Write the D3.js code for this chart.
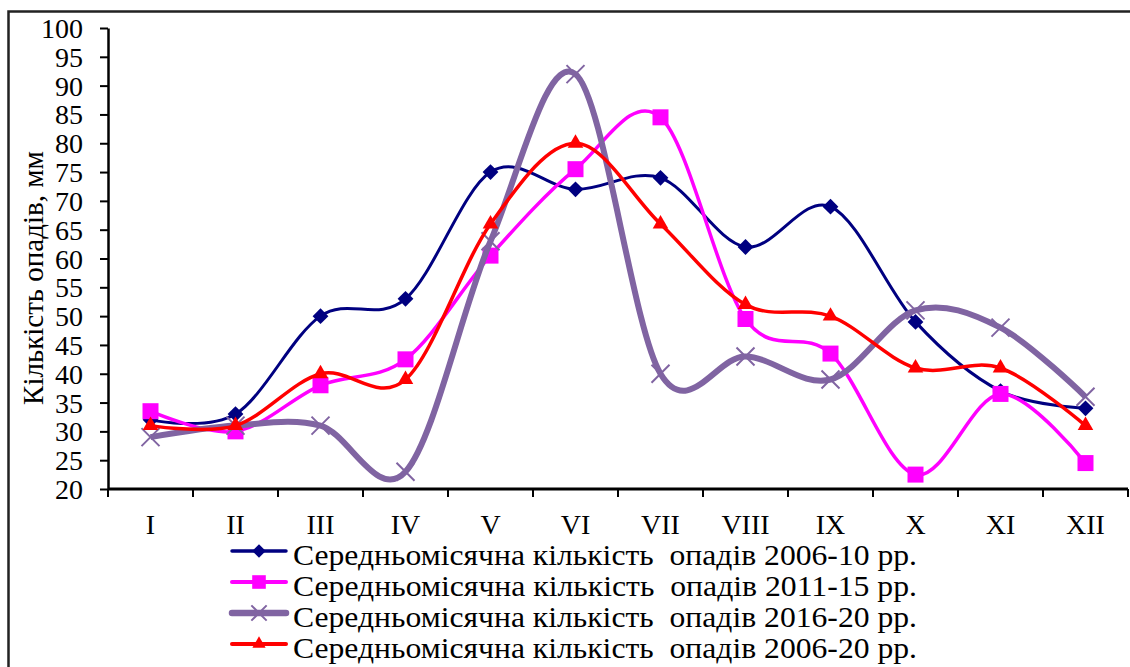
<!DOCTYPE html>
<html>
<head>
<meta charset="utf-8">
<script src="https://cdn.jsdelivr.net/npm/d3@7"></script>
<style>
  html, body { margin: 0; padding: 0; background: #fff; }
  svg { display: block; font-family: "Liberation Serif", "Times New Roman", serif; }
  text { white-space: pre; }
</style>
</head>
<body>
<div id="chart"></div>
<script>
(function () {
// Months (roman numerals, as on the x axis)
const months = ["I", "II", "III", "IV", "V", "VI", "VII", "VIII", "IX", "X", "XI", "XII"];

// Average monthly precipitation, mm
const rain2006_10 = [32, 33, 50, 53, 75, 72, 74, 62, 69, 49, 37, 34];
const rain2011_15 = [33.5, 30, 38, 42.5, 60.5, 75.5, 84.5, 49.5, 43.5, 22.5, 36.5, 24.5];
const rain2016_20 = [29, 31, 31, 23, 63, 92, 40, 43, 39, 51, 48, 36];
const rain2006_20 = [31, 31, 40, 39, 66, 80, 66, 52, 50, 41, 41, 31];

const seriesLabels = [
  "Середньомісячна кількість  опадів 2006-10 рр.",
  "Середньомісячна кількість  опадів 2011-15 рр.",
  "Середньомісячна кількість  опадів 2016-20 рр.",
  "Середньомісячна кількість  опадів 2006-20 рр."
];
const yTicks = [20, 25, 30, 35, 40, 45, 50, 55, 60, 65, 70, 75, 80, 85, 90, 95, 100];
const yTitle = "Кількість опадів, мм";

const series = [
  { values: rain2006_10, color: "#000080", width: 3, marker: "diamond" },
  { values: rain2011_15, color: "#FF00FF", width: 3.5, marker: "square" },
  { values: rain2016_20, color: "#8064A2", width: 6, marker: "x" },
  { values: rain2006_20, color: "#FF0000", width: 3.5, marker: "triangle" }
];

const W = 1130, H = 667;
const plot = { left: 108, right: 1128, top: 28, bottom: 489 };

const svg = d3.select("#chart").append("svg")
  .attr("width", W)
  .attr("height", H);

// outer chart border (runs off the right and bottom edges)
svg.append("rect")
  .attr("x", 8.5).attr("y", 11.5)
  .attr("width", 1140).attr("height", 680)
  .attr("fill", "none")
  .attr("stroke", "#222")
  .attr("stroke-width", 2.5);

const x = d3.scaleBand()
  .domain(months)
  .range([plot.left, plot.right]);

const y = d3.scaleLinear()
  .domain([20, 100])
  .range([plot.bottom, plot.top]);

const cx = m => x(m) + x.bandwidth() / 2;

// y axis
const yAxis = svg.append("g")
  .attr("transform", `translate(${plot.left},0)`)
  .call(d3.axisLeft(y).tickValues(yTicks).tickSize(8).tickPadding(17).tickSizeOuter(0));
yAxis.select(".domain").attr("stroke", "#000").attr("stroke-width", 2.5);
yAxis.selectAll(".tick line").attr("stroke", "#000").attr("stroke-width", 2);
yAxis.selectAll(".tick text")
  .attr("font-family", "Liberation Serif, Times New Roman, serif")
  .attr("font-size", 28)
  .attr("fill", "#000")
  .attr("dy", "0.34em");

// x axis: ticks sit on category boundaries, labels centred in each band
const xAxis = svg.append("g")
  .attr("transform", `translate(0,${plot.bottom})`);
xAxis.append("line")
  .attr("x1", plot.left).attr("x2", plot.right)
  .attr("stroke", "#000").attr("stroke-width", 3);
const bounds = months.map(m => x(m)).concat([x(months[months.length - 1]) + x.bandwidth()]);
xAxis.selectAll("line.tk")
  .data(bounds)
  .enter().append("line")
  .attr("class", "tk")
  .attr("x1", d => d).attr("x2", d => d)
  .attr("y1", 0).attr("y2", 8)
  .attr("stroke", "#000").attr("stroke-width", 2);
xAxis.selectAll("text")
  .data(months)
  .enter().append("text")
  .attr("x", d => cx(d))
  .attr("y", 45)
  .attr("text-anchor", "middle")
  .attr("font-size", 28)
  .attr("fill", "#000")
  .text(d => d);

// y axis title
svg.append("text")
  .attr("transform", `translate(43,278) rotate(-90)`)
  .attr("text-anchor", "middle")
  .attr("font-size", 29)
  .attr("fill", "#000")
  .text(yTitle);

// markers
function drawMarker(g, type, color, px, py, scale) {
  const s = scale || 1;
  if (type === "diamond") {
    g.append("path")
      .attr("d", d3.symbol(d3.symbolSquare, 125 * s * s)())
      .attr("transform", `translate(${px},${py}) rotate(45)`)
      .attr("fill", color);
  } else if (type === "square") {
    g.append("path")
      .attr("d", d3.symbol(d3.symbolSquare, 256 * s * s)())
      .attr("transform", `translate(${px},${py})`)
      .attr("fill", color);
  } else if (type === "triangle") {
    g.append("path")
      .attr("d", d3.symbol(d3.symbolTriangle, 105 * s * s)())
      .attr("transform", `translate(${px},${py})`)
      .attr("fill", color);
  } else {
    const r = 9 * s;
    g.append("path")
      .attr("d", `M${px - r},${py - r}L${px + r},${py + r}M${px - r},${py + r}L${px + r},${py - r}`)
      .attr("stroke", color)
      .attr("stroke-width", 2)
      .attr("fill", "none");
  }
}

const line = d3.line()
  .x((d, i) => cx(months[i]))
  .y(d => y(d))
  .curve(d3.curveCatmullRom.alpha(0));

const gSeries = svg.append("g");
series.forEach(s => {
  const g = gSeries.append("g");
  g.append("path")
    .datum(s.values)
    .attr("d", line)
    .attr("fill", "none")
    .attr("stroke", s.color)
    .attr("stroke-width", s.width)
    .attr("stroke-linejoin", "round");
  s.values.forEach((v, i) => drawMarker(g, s.marker, s.color, cx(months[i]), y(v)));
});

// legend
const legend = svg.append("g");
series.forEach((s, i) => {
  const ly = 551 + i * 31;
  legend.append("line")
    .attr("x1", 232).attr("x2", 286)
    .attr("y1", ly).attr("y2", ly)
    .attr("stroke", s.color)
    .attr("stroke-width", s.width + 0.5)
    .attr("stroke-linecap", "round");
  drawMarker(legend, s.marker, s.color, 259, ly, 0.85);
  legend.append("text")
    .attr("x", 293)
    .attr("y", ly + 14)
    .attr("font-size", 29)
    .attr("textLength", 624)
    .attr("lengthAdjust", "spacingAndGlyphs")
    .attr("fill", "#000")
    .text(seriesLabels[i]);
});
})();
</script>
</body>
</html>
